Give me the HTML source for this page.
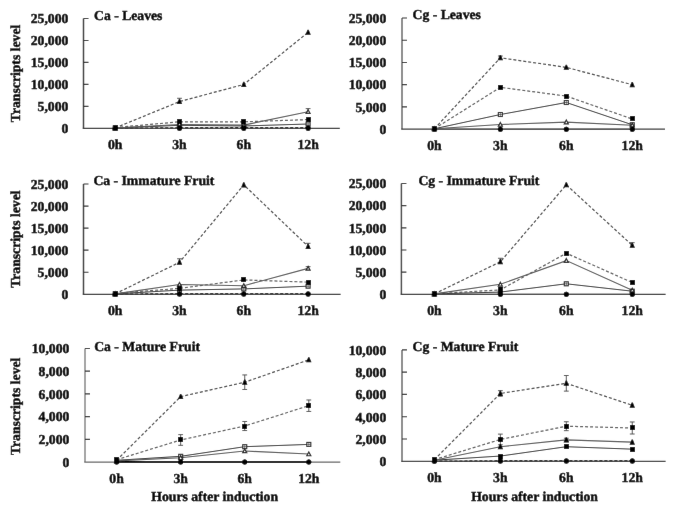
<!DOCTYPE html>
<html><head><meta charset="utf-8"><style>
html,body{margin:0;padding:0;background:#fff;width:685px;height:511px;overflow:hidden}
svg{display:block}
text{text-rendering:geometricPrecision;font-family:"Liberation Serif","Times New Roman",serif;font-weight:bold;font-size:13.7px;fill:#000;stroke:#000;stroke-width:0.45px}
</style></head><body>
<svg width="685" height="511" viewBox="0 0 685 511">
<defs><filter id="bl" x="0" y="0" width="685" height="511" filterUnits="userSpaceOnUse" primitiveUnits="userSpaceOnUse"><feConvolveMatrix order="3" kernelMatrix="0.0016 0.0371 0.0016 0.0371 0.8450 0.0371 0.0016 0.0371 0.0016" divisor="1" edgeMode="duplicate"/></filter></defs>
<g filter="url(#bl)">
<rect width="685" height="511" fill="#fff"/>
<g><path d="M83.5 18.5V128.4" fill="none" stroke="#3a3a3a" stroke-width="1.5"/><path d="M82.75 128.4H339.8" fill="none" stroke="#333" stroke-width="1.25"/><path d="M83.5 106.42h5M83.5 84.44h5M83.5 62.46h5M83.5 40.48h5M83.5 18.5h5" stroke="#333" stroke-width="1.2"/><text transform="translate(68.40 133.16)" text-anchor="end">0</text><text transform="translate(68.40 111.18)" text-anchor="end">5,000</text><text transform="translate(68.40 89.20)" text-anchor="end">10,000</text><text transform="translate(68.40 67.22)" text-anchor="end">15,000</text><text transform="translate(68.40 45.24)" text-anchor="end">20,000</text><text transform="translate(68.40 23.26)" text-anchor="end">25,000</text><text transform="translate(115.20 148.90)" text-anchor="middle">0h</text><text transform="translate(179.50 148.90)" text-anchor="middle">3h</text><text transform="translate(243.80 148.90)" text-anchor="middle">6h</text><text transform="translate(308.10 148.90)" text-anchor="middle">12h</text><text transform="translate(94.00 19.90)">Ca - Leaves</text><polyline points="115.2,128.4 179.5,128.4 243.8,128.4 308.1,128.4" fill="none" stroke="#444" stroke-width="1.0"/><polyline points="115.2,128.4 179.5,127.74 243.8,127.74 308.1,127.74" fill="none" stroke="#222" stroke-width="1.3" stroke-dasharray="3 2"/><polyline points="115.2,127.96 179.5,125.32 243.8,125.98 308.1,124" fill="none" stroke="#333" stroke-width="1.0"/><polyline points="115.2,127.96 179.5,124.44 243.8,125.1 308.1,111.7" fill="none" stroke="#555" stroke-width="1.1"/><polyline points="115.2,127.52 179.5,121.81 243.8,121.81 308.1,119.61" fill="none" stroke="#5c5c5c" stroke-width="1.2" stroke-dasharray="3 2"/><polyline points="115.2,127.96 179.5,101.58 243.8,84.44 308.1,32.35" fill="none" stroke="#444" stroke-width="1.2" stroke-dasharray="3 2"/><path d="M308.1 108.62V111.7M305.7 108.62h4.8" stroke="#555" stroke-width="1"/><path d="M179.5 98.29V101.58M177.1 98.29h4.8" stroke="#555" stroke-width="1"/><rect x="113.2" y="125.96" width="4" height="4" fill="#fff" stroke="#222" stroke-width="1.1"/><path d="M113.7 127.96h3M115.2 126.46v3" stroke="#444" stroke-width="0.7"/><rect x="177.5" y="123.32" width="4" height="4" fill="#fff" stroke="#222" stroke-width="1.1"/><path d="M178 125.32h3M179.5 123.82v3" stroke="#444" stroke-width="0.7"/><rect x="241.8" y="123.98" width="4" height="4" fill="#fff" stroke="#222" stroke-width="1.1"/><path d="M242.3 125.98h3M243.8 124.48v3" stroke="#444" stroke-width="0.7"/><rect x="306.1" y="122" width="4" height="4" fill="#fff" stroke="#222" stroke-width="1.1"/><path d="M306.6 124h3M308.1 122.5v3" stroke="#444" stroke-width="0.7"/><path d="M115.2 125.96L117.2 129.66H113.2Z" fill="#fff" stroke="#222" stroke-width="1.2"/><path d="M179.5 122.44L181.5 126.14H177.5Z" fill="#fff" stroke="#222" stroke-width="1.2"/><path d="M243.8 123.1L245.8 126.8H241.8Z" fill="#fff" stroke="#222" stroke-width="1.2"/><path d="M308.1 109.7L310.1 113.4H306.1Z" fill="#fff" stroke="#222" stroke-width="1.2"/><circle cx="115.2" cy="128.4" r="2.5" fill="#000"/><circle cx="179.5" cy="128.4" r="2.5" fill="#000"/><circle cx="243.8" cy="128.4" r="2.5" fill="#000"/><circle cx="308.1" cy="128.4" r="2.5" fill="#000"/><circle cx="115.2" cy="128.4" r="2.5" fill="#000"/><circle cx="179.5" cy="127.74" r="2.5" fill="#000"/><circle cx="243.8" cy="127.74" r="2.5" fill="#000"/><circle cx="308.1" cy="127.74" r="2.5" fill="#000"/><rect x="113" y="125" width="5" height="5" fill="#000"/><rect x="177" y="119" width="5" height="5" fill="#000"/><rect x="241" y="119" width="5" height="5" fill="#000"/><rect x="306" y="117" width="5" height="5" fill="#000"/><path d="M114.6 125.26H115.8L117.9 130.46H112.5Z" fill="#000"/><path d="M178.9 98.88H180.1L182.2 104.08H176.8Z" fill="#000"/><path d="M243.2 81.74H244.4L246.5 86.94H241.1Z" fill="#000"/><path d="M307.5 29.65H308.7L310.8 34.85H305.4Z" fill="#000"/></g>
<g><path d="M402 18V129.2" fill="none" stroke="#6a6a6a" stroke-width="1.5"/><path d="M401.25 129.2H665" fill="none" stroke="#3a3a3a" stroke-width="1.25"/><path d="M402 106.96h5M402 84.72h5M402 62.48h5M402 40.24h5M402 18h5" stroke="#333" stroke-width="1.2"/><text transform="translate(386.30 133.96)" text-anchor="end">0</text><text transform="translate(386.30 111.72)" text-anchor="end">5,000</text><text transform="translate(386.30 89.48)" text-anchor="end">10,000</text><text transform="translate(386.30 67.24)" text-anchor="end">15,000</text><text transform="translate(386.30 45.00)" text-anchor="end">20,000</text><text transform="translate(386.30 22.76)" text-anchor="end">25,000</text><text transform="translate(434.40 149.70)" text-anchor="middle">0h</text><text transform="translate(500.35 149.70)" text-anchor="middle">3h</text><text transform="translate(566.30 149.70)" text-anchor="middle">6h</text><text transform="translate(632.25 149.70)" text-anchor="middle">12h</text><text transform="translate(412.50 19.40)">Cg - Leaves</text><polyline points="434.4,129.2 500.35,129.2 566.3,129.2 632.25,129.2" fill="none" stroke="#444" stroke-width="1.0"/><polyline points="434.4,128.76 500.35,114.52 566.3,102.51 632.25,124.75" fill="none" stroke="#333" stroke-width="1.0"/><polyline points="434.4,128.76 500.35,124.53 566.3,122.08 632.25,125.2" fill="none" stroke="#555" stroke-width="1.1"/><polyline points="434.4,128.76 500.35,87.3 566.3,96.11 632.25,118.97" fill="none" stroke="#5c5c5c" stroke-width="1.2" stroke-dasharray="3 2"/><polyline points="434.4,128.76 500.35,57.81 566.3,67.37 632.25,84.72" fill="none" stroke="#444" stroke-width="1.2" stroke-dasharray="3 2"/><path d="M500.35 56.03V57.81M497.95 56.03h4.8" stroke="#555" stroke-width="1"/><rect x="432.4" y="126.76" width="4" height="4" fill="#fff" stroke="#222" stroke-width="1.1"/><path d="M432.9 128.76h3M434.4 127.26v3" stroke="#444" stroke-width="0.7"/><rect x="498.35" y="112.52" width="4" height="4" fill="#fff" stroke="#222" stroke-width="1.1"/><path d="M498.85 114.52h3M500.35 113.02v3" stroke="#444" stroke-width="0.7"/><rect x="564.3" y="100.51" width="4" height="4" fill="#fff" stroke="#222" stroke-width="1.1"/><path d="M564.8 102.51h3M566.3 101.01v3" stroke="#444" stroke-width="0.7"/><rect x="630.25" y="122.75" width="4" height="4" fill="#fff" stroke="#222" stroke-width="1.1"/><path d="M630.75 124.75h3M632.25 123.25v3" stroke="#444" stroke-width="0.7"/><path d="M434.4 126.76L436.4 130.46H432.4Z" fill="#fff" stroke="#222" stroke-width="1.2"/><path d="M500.35 122.53L502.35 126.23H498.35Z" fill="#fff" stroke="#222" stroke-width="1.2"/><path d="M566.3 120.08L568.3 123.78H564.3Z" fill="#fff" stroke="#222" stroke-width="1.2"/><path d="M632.25 123.2L634.25 126.9H630.25Z" fill="#fff" stroke="#222" stroke-width="1.2"/><circle cx="434.4" cy="129.2" r="2.5" fill="#000"/><circle cx="500.35" cy="129.2" r="2.5" fill="#000"/><circle cx="566.3" cy="129.2" r="2.5" fill="#000"/><circle cx="632.25" cy="129.2" r="2.5" fill="#000"/><circle cx="434.4" cy="129.2" r="2.5" fill="#000"/><circle cx="500.35" cy="129.2" r="2.5" fill="#000"/><circle cx="566.3" cy="129.2" r="2.5" fill="#000"/><circle cx="632.25" cy="129.2" r="2.5" fill="#000"/><rect x="432" y="126" width="5" height="5" fill="#000"/><rect x="498" y="85" width="5" height="5" fill="#000"/><rect x="564" y="94" width="5" height="5" fill="#000"/><rect x="630" y="116" width="5" height="5" fill="#000"/><path d="M433.8 126.06H435L437.1 131.26H431.7Z" fill="#000"/><path d="M499.75 55.11H500.95L503.05 60.31H497.65Z" fill="#000"/><path d="M565.7 64.67H566.9L569 69.87H563.6Z" fill="#000"/><path d="M631.65 82.02H632.85L634.95 87.22H629.55Z" fill="#000"/></g>
<g><path d="M83.5 184V294.3" fill="none" stroke="#3a3a3a" stroke-width="1.5"/><path d="M82.75 294.3H340.6" fill="none" stroke="#333" stroke-width="1.25"/><path d="M83.5 272.24h5M83.5 250.18h5M83.5 228.12h5M83.5 206.06h5M83.5 184h5" stroke="#333" stroke-width="1.2"/><text transform="translate(68.40 299.06)" text-anchor="end">0</text><text transform="translate(68.40 277.00)" text-anchor="end">5,000</text><text transform="translate(68.40 254.94)" text-anchor="end">10,000</text><text transform="translate(68.40 232.88)" text-anchor="end">15,000</text><text transform="translate(68.40 210.82)" text-anchor="end">20,000</text><text transform="translate(68.40 188.76)" text-anchor="end">25,000</text><text transform="translate(115.20 314.80)" text-anchor="middle">0h</text><text transform="translate(179.50 314.80)" text-anchor="middle">3h</text><text transform="translate(243.80 314.80)" text-anchor="middle">6h</text><text transform="translate(308.10 314.80)" text-anchor="middle">12h</text><text transform="translate(93.40 185.40)">Ca - Immature Fruit</text><polyline points="115.2,294.3 179.5,294.3 243.8,294.3 308.1,294.3" fill="none" stroke="#444" stroke-width="1.0"/><polyline points="115.2,294.3 179.5,293.64 243.8,293.64 308.1,293.64" fill="none" stroke="#222" stroke-width="1.3" stroke-dasharray="3 2"/><polyline points="115.2,293.86 179.5,290.11 243.8,288.92 308.1,286.18" fill="none" stroke="#333" stroke-width="1.0"/><polyline points="115.2,293.86 179.5,284.51 243.8,285.7 308.1,268.4" fill="none" stroke="#555" stroke-width="1.1"/><polyline points="115.2,293.42 179.5,288.34 243.8,279.92 308.1,282.12" fill="none" stroke="#5c5c5c" stroke-width="1.2" stroke-dasharray="3 2"/><polyline points="115.2,293.86 179.5,262.31 243.8,184.88 308.1,246.39" fill="none" stroke="#444" stroke-width="1.2" stroke-dasharray="3 2"/><path d="M308.1 266.64V268.4M305.7 266.64h4.8" stroke="#555" stroke-width="1"/><path d="M179.5 258.78V262.31M177.1 258.78h4.8" stroke="#555" stroke-width="1"/><path d="M308.1 243.3V246.39M305.7 243.3h4.8" stroke="#555" stroke-width="1"/><rect x="113.2" y="291.86" width="4" height="4" fill="#fff" stroke="#222" stroke-width="1.1"/><path d="M113.7 293.86h3M115.2 292.36v3" stroke="#444" stroke-width="0.7"/><rect x="177.5" y="288.11" width="4" height="4" fill="#fff" stroke="#222" stroke-width="1.1"/><path d="M178 290.11h3M179.5 288.61v3" stroke="#444" stroke-width="0.7"/><rect x="241.8" y="286.92" width="4" height="4" fill="#fff" stroke="#222" stroke-width="1.1"/><path d="M242.3 288.92h3M243.8 287.42v3" stroke="#444" stroke-width="0.7"/><rect x="306.1" y="284.18" width="4" height="4" fill="#fff" stroke="#222" stroke-width="1.1"/><path d="M306.6 286.18h3M308.1 284.68v3" stroke="#444" stroke-width="0.7"/><path d="M115.2 291.86L117.2 295.56H113.2Z" fill="#fff" stroke="#222" stroke-width="1.2"/><path d="M179.5 282.51L181.5 286.21H177.5Z" fill="#fff" stroke="#222" stroke-width="1.2"/><path d="M243.8 283.7L245.8 287.4H241.8Z" fill="#fff" stroke="#222" stroke-width="1.2"/><path d="M308.1 266.4L310.1 270.1H306.1Z" fill="#fff" stroke="#222" stroke-width="1.2"/><circle cx="115.2" cy="294.3" r="2.5" fill="#000"/><circle cx="179.5" cy="294.3" r="2.5" fill="#000"/><circle cx="243.8" cy="294.3" r="2.5" fill="#000"/><circle cx="308.1" cy="294.3" r="2.5" fill="#000"/><circle cx="115.2" cy="294.3" r="2.5" fill="#000"/><circle cx="179.5" cy="293.64" r="2.5" fill="#000"/><circle cx="243.8" cy="293.64" r="2.5" fill="#000"/><circle cx="308.1" cy="293.64" r="2.5" fill="#000"/><rect x="113" y="291" width="5" height="5" fill="#000"/><rect x="177" y="286" width="5" height="5" fill="#000"/><rect x="241" y="277" width="5" height="5" fill="#000"/><rect x="306" y="280" width="5" height="5" fill="#000"/><path d="M114.6 291.16H115.8L117.9 296.36H112.5Z" fill="#000"/><path d="M178.9 259.61H180.1L182.2 264.81H176.8Z" fill="#000"/><path d="M243.2 182.18H244.4L246.5 187.38H241.1Z" fill="#000"/><path d="M307.5 243.69H308.7L310.8 248.89H305.4Z" fill="#000"/></g>
<g><path d="M401.4 183.5V294.3" fill="none" stroke="#4a4a4a" stroke-width="1.5"/><path d="M400.65 294.3H665.6" fill="none" stroke="#333" stroke-width="1.25"/><path d="M401.4 272.14h5M401.4 249.98h5M401.4 227.82h5M401.4 205.66h5M401.4 183.5h5" stroke="#333" stroke-width="1.2"/><text transform="translate(386.30 299.06)" text-anchor="end">0</text><text transform="translate(386.30 276.90)" text-anchor="end">5,000</text><text transform="translate(386.30 254.74)" text-anchor="end">10,000</text><text transform="translate(386.30 232.58)" text-anchor="end">15,000</text><text transform="translate(386.30 210.42)" text-anchor="end">20,000</text><text transform="translate(386.30 188.26)" text-anchor="end">25,000</text><text transform="translate(434.40 314.80)" text-anchor="middle">0h</text><text transform="translate(500.35 314.80)" text-anchor="middle">3h</text><text transform="translate(566.30 314.80)" text-anchor="middle">6h</text><text transform="translate(632.25 314.80)" text-anchor="middle">12h</text><text transform="translate(418.40 185.40)">Cg - Immature Fruit</text><polyline points="434.4,294.3 500.35,294.3 566.3,294.3 632.25,294.3" fill="none" stroke="#444" stroke-width="1.0"/><polyline points="434.4,293.86 500.35,292.08 566.3,283.8 632.25,291.2" fill="none" stroke="#333" stroke-width="1.0"/><polyline points="434.4,293.86 500.35,284.33 566.3,260.62 632.25,290.31" fill="none" stroke="#555" stroke-width="1.1"/><polyline points="434.4,293.86 500.35,289.87 566.3,253.22 632.25,282.51" fill="none" stroke="#5c5c5c" stroke-width="1.2" stroke-dasharray="3 2"/><polyline points="434.4,293.86 500.35,261.81 566.3,184.83 632.25,245.33" fill="none" stroke="#444" stroke-width="1.2" stroke-dasharray="3 2"/><path d="M500.35 258.27V261.81M497.95 258.27h4.8" stroke="#555" stroke-width="1"/><path d="M632.25 242.67V245.33M629.85 242.67h4.8" stroke="#555" stroke-width="1"/><rect x="432.4" y="291.86" width="4" height="4" fill="#fff" stroke="#222" stroke-width="1.1"/><path d="M432.9 293.86h3M434.4 292.36v3" stroke="#444" stroke-width="0.7"/><rect x="498.35" y="290.08" width="4" height="4" fill="#fff" stroke="#222" stroke-width="1.1"/><path d="M498.85 292.08h3M500.35 290.58v3" stroke="#444" stroke-width="0.7"/><rect x="564.3" y="281.8" width="4" height="4" fill="#fff" stroke="#222" stroke-width="1.1"/><path d="M564.8 283.8h3M566.3 282.3v3" stroke="#444" stroke-width="0.7"/><rect x="630.25" y="289.2" width="4" height="4" fill="#fff" stroke="#222" stroke-width="1.1"/><path d="M630.75 291.2h3M632.25 289.7v3" stroke="#444" stroke-width="0.7"/><path d="M434.4 291.86L436.4 295.56H432.4Z" fill="#fff" stroke="#222" stroke-width="1.2"/><path d="M500.35 282.33L502.35 286.03H498.35Z" fill="#fff" stroke="#222" stroke-width="1.2"/><path d="M566.3 258.62L568.3 262.32H564.3Z" fill="#fff" stroke="#222" stroke-width="1.2"/><path d="M632.25 288.31L634.25 292.01H630.25Z" fill="#fff" stroke="#222" stroke-width="1.2"/><circle cx="434.4" cy="294.3" r="2.5" fill="#000"/><circle cx="500.35" cy="294.3" r="2.5" fill="#000"/><circle cx="566.3" cy="294.3" r="2.5" fill="#000"/><circle cx="632.25" cy="294.3" r="2.5" fill="#000"/><circle cx="434.4" cy="294.3" r="2.5" fill="#000"/><circle cx="500.35" cy="294.3" r="2.5" fill="#000"/><circle cx="566.3" cy="294.3" r="2.5" fill="#000"/><circle cx="632.25" cy="294.3" r="2.5" fill="#000"/><rect x="432" y="291" width="5" height="5" fill="#000"/><rect x="498" y="287" width="5" height="5" fill="#000"/><rect x="564" y="251" width="5" height="5" fill="#000"/><rect x="630" y="280" width="5" height="5" fill="#000"/><path d="M433.8 291.16H435L437.1 296.36H431.7Z" fill="#000"/><path d="M499.75 259.11H500.95L503.05 264.31H497.65Z" fill="#000"/><path d="M565.7 182.13H566.9L569 187.33H563.6Z" fill="#000"/><path d="M631.65 242.63H632.85L634.95 247.83H629.55Z" fill="#000"/></g>
<g><path d="M85 348.5V462" fill="none" stroke="#888888" stroke-width="1.5"/><path d="M84.25 462H340.3" fill="none" stroke="#666" stroke-width="1.25"/><path d="M85 439.3h5M85 416.6h5M85 393.9h5M85 371.2h5M85 348.5h5" stroke="#333" stroke-width="1.2"/><text transform="translate(69.40 466.76)" text-anchor="end">0</text><text transform="translate(69.40 444.06)" text-anchor="end">2,000</text><text transform="translate(69.40 421.36)" text-anchor="end">4,000</text><text transform="translate(69.40 398.66)" text-anchor="end">6,000</text><text transform="translate(69.40 375.96)" text-anchor="end">8,000</text><text transform="translate(69.40 353.26)" text-anchor="end">10,000</text><text transform="translate(116.60 482.50)" text-anchor="middle">0h</text><text transform="translate(180.67 482.50)" text-anchor="middle">3h</text><text transform="translate(244.74 482.50)" text-anchor="middle">6h</text><text transform="translate(308.81 482.50)" text-anchor="middle">12h</text><text transform="translate(94.20 350.50)">Ca - Mature Fruit</text><polyline points="116.6,462 180.67,462 244.74,462 308.81,462" fill="none" stroke="#000" stroke-width="2.0"/><polyline points="116.6,460.3 180.67,456.32 244.74,446.68 308.81,444.41" fill="none" stroke="#333" stroke-width="1.0"/><polyline points="116.6,460.87 180.67,457.8 244.74,450.99 308.81,454.06" fill="none" stroke="#555" stroke-width="1.1"/><polyline points="116.6,459.73 180.67,439.98 244.74,426.02 308.81,405.7" fill="none" stroke="#5c5c5c" stroke-width="1.2" stroke-dasharray="3 2"/><polyline points="116.6,460.3 180.67,396.62 244.74,382.21 308.81,359.85" fill="none" stroke="#444" stroke-width="1.2" stroke-dasharray="3 2"/><path d="M180.67 434.65V445.32M178.27 434.65h4.8M178.27 445.32h4.8" stroke="#555" stroke-width="1"/><path d="M244.74 421.48V430.56M242.34 421.48h4.8M242.34 430.56h4.8" stroke="#555" stroke-width="1"/><path d="M308.81 399.97V411.44M306.41 399.97h4.8M306.41 411.44h4.8" stroke="#555" stroke-width="1"/><path d="M244.74 374.95V389.47M242.34 374.95h4.8M242.34 389.47h4.8" stroke="#555" stroke-width="1"/><rect x="114.6" y="458.3" width="4" height="4" fill="#fff" stroke="#222" stroke-width="1.1"/><path d="M115.1 460.3h3M116.6 458.8v3" stroke="#444" stroke-width="0.7"/><rect x="178.67" y="454.32" width="4" height="4" fill="#fff" stroke="#222" stroke-width="1.1"/><path d="M179.17 456.32h3M180.67 454.82v3" stroke="#444" stroke-width="0.7"/><rect x="242.74" y="444.68" width="4" height="4" fill="#fff" stroke="#222" stroke-width="1.1"/><path d="M243.24 446.68h3M244.74 445.18v3" stroke="#444" stroke-width="0.7"/><rect x="306.81" y="442.41" width="4" height="4" fill="#fff" stroke="#222" stroke-width="1.1"/><path d="M307.31 444.41h3M308.81 442.91v3" stroke="#444" stroke-width="0.7"/><path d="M116.6 458.87L118.6 462.56H114.6Z" fill="#fff" stroke="#222" stroke-width="1.2"/><path d="M180.67 455.8L182.67 459.5H178.67Z" fill="#fff" stroke="#222" stroke-width="1.2"/><path d="M244.74 448.99L246.74 452.69H242.74Z" fill="#fff" stroke="#222" stroke-width="1.2"/><path d="M308.81 452.06L310.81 455.75H306.81Z" fill="#fff" stroke="#222" stroke-width="1.2"/><circle cx="116.6" cy="462" r="2.5" fill="#000"/><circle cx="180.67" cy="462" r="2.5" fill="#000"/><circle cx="244.74" cy="462" r="2.5" fill="#000"/><circle cx="308.81" cy="462" r="2.5" fill="#000"/><circle cx="116.6" cy="462" r="2.5" fill="#000"/><circle cx="180.67" cy="462" r="2.5" fill="#000"/><circle cx="244.74" cy="462" r="2.5" fill="#000"/><circle cx="308.81" cy="462" r="2.5" fill="#000"/><rect x="114" y="457" width="5" height="5" fill="#000"/><rect x="178" y="437" width="5" height="5" fill="#000"/><rect x="242" y="424" width="5" height="5" fill="#000"/><rect x="306" y="403" width="5" height="5" fill="#000"/><path d="M116 457.6H117.2L119.3 462.8H113.9Z" fill="#000"/><path d="M180.07 393.92H181.27L183.37 399.12H177.97Z" fill="#000"/><path d="M244.14 379.51H245.34L247.44 384.71H242.04Z" fill="#000"/><path d="M308.21 357.15H309.41L311.51 362.35H306.11Z" fill="#000"/></g>
<g><path d="M402 349.9V461.3" fill="none" stroke="#6a6a6a" stroke-width="1.5"/><path d="M401.25 461.3H665.6" fill="none" stroke="#3a3a3a" stroke-width="1.25"/><path d="M402 439.02h5M402 416.74h5M402 394.46h5M402 372.18h5M402 349.9h5" stroke="#333" stroke-width="1.2"/><text transform="translate(386.30 466.06)" text-anchor="end">0</text><text transform="translate(386.30 443.78)" text-anchor="end">2,000</text><text transform="translate(386.30 421.50)" text-anchor="end">4,000</text><text transform="translate(386.30 399.22)" text-anchor="end">6,000</text><text transform="translate(386.30 376.94)" text-anchor="end">8,000</text><text transform="translate(386.30 354.66)" text-anchor="end">10,000</text><text transform="translate(434.40 481.80)" text-anchor="middle">0h</text><text transform="translate(500.35 481.80)" text-anchor="middle">3h</text><text transform="translate(566.30 481.80)" text-anchor="middle">6h</text><text transform="translate(632.25 481.80)" text-anchor="middle">12h</text><text transform="translate(412.50 351.30)">Cg - Mature Fruit</text><polyline points="434.4,461.3 500.35,461.3 566.3,461.3 632.25,461.3" fill="none" stroke="#444" stroke-width="1.0"/><polyline points="434.4,461.3 500.35,460.74 566.3,460.74 632.25,460.74" fill="none" stroke="#222" stroke-width="1.3" stroke-dasharray="3 2"/><polyline points="434.4,460.19 500.35,456.06 566.3,446.71 632.25,449.16" fill="none" stroke="#333" stroke-width="1.0"/><polyline points="434.4,460.19 500.35,446.71 566.3,439.91 632.25,442.14" fill="none" stroke="#555" stroke-width="1.1"/><polyline points="434.4,459.63 500.35,439.47 566.3,426.21 632.25,427.99" fill="none" stroke="#5c5c5c" stroke-width="1.2" stroke-dasharray="3 2"/><polyline points="434.4,459.63 500.35,393.46 566.3,383.32 632.25,405.27" fill="none" stroke="#444" stroke-width="1.2" stroke-dasharray="3 2"/><path d="M566.3 438.24V441.58M563.9 438.24h4.8M563.9 441.58h4.8" stroke="#555" stroke-width="1"/><path d="M500.35 434.12V444.81M497.95 434.12h4.8M497.95 444.81h4.8" stroke="#555" stroke-width="1"/><path d="M566.3 421.75V430.67M563.9 421.75h4.8M563.9 430.67h4.8" stroke="#555" stroke-width="1"/><path d="M632.25 421.98V434.01M629.85 421.98h4.8M629.85 434.01h4.8" stroke="#555" stroke-width="1"/><path d="M500.35 390.67V396.24M497.95 390.67h4.8M497.95 396.24h4.8" stroke="#555" stroke-width="1"/><path d="M566.3 375.52V391.12M563.9 375.52h4.8M563.9 391.12h4.8" stroke="#555" stroke-width="1"/><rect x="432" y="458" width="5" height="5" fill="#000"/><rect x="498" y="454" width="5" height="5" fill="#000"/><rect x="564" y="444" width="5" height="5" fill="#000"/><rect x="630" y="447" width="5" height="5" fill="#000"/><path d="M433.8 457.49H435L437.1 462.69H431.7Z" fill="#000"/><path d="M499.75 444.01H500.95L503.05 449.21H497.65Z" fill="#000"/><path d="M565.7 437.21H566.9L569 442.41H563.6Z" fill="#000"/><path d="M631.65 439.44H632.85L634.95 444.64H629.55Z" fill="#000"/><circle cx="434.4" cy="461.3" r="2.5" fill="#000"/><circle cx="500.35" cy="461.3" r="2.5" fill="#000"/><circle cx="566.3" cy="461.3" r="2.5" fill="#000"/><circle cx="632.25" cy="461.3" r="2.5" fill="#000"/><circle cx="434.4" cy="461.3" r="2.5" fill="#000"/><circle cx="500.35" cy="460.74" r="2.5" fill="#000"/><circle cx="566.3" cy="460.74" r="2.5" fill="#000"/><circle cx="632.25" cy="460.74" r="2.5" fill="#000"/><rect x="432" y="457" width="5" height="5" fill="#000"/><rect x="498" y="437" width="5" height="5" fill="#000"/><rect x="564" y="424" width="5" height="5" fill="#000"/><rect x="630" y="425" width="5" height="5" fill="#000"/><path d="M433.8 456.93H435L437.1 462.13H431.7Z" fill="#000"/><path d="M499.75 390.76H500.95L503.05 395.96H497.65Z" fill="#000"/><path d="M565.7 380.62H566.9L569 385.82H563.6Z" fill="#000"/><path d="M631.65 402.57H632.85L634.95 407.77H629.55Z" fill="#000"/></g>
<text transform="translate(20.20 73.45) rotate(-90)" text-anchor="middle">Transcripts level</text>
<text transform="translate(20.20 239.15) rotate(-90)" text-anchor="middle">Transcripts level</text>
<text transform="translate(20.20 406.35) rotate(-90)" text-anchor="middle">Transcripts level</text>
<text transform="translate(214.70 501.20)" text-anchor="middle">Hours after induction</text>
<text transform="translate(534.60 501.20)" text-anchor="middle">Hours after induction</text>
</g></svg>
</body></html>
